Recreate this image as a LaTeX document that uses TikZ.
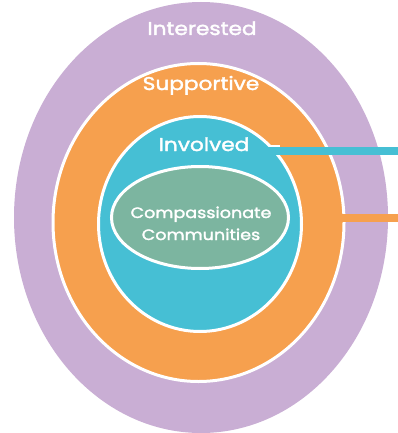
\documentclass[tikz,border=0pt]{standalone}
\usepackage{fontspec}
\setmainfont{Poppins}[FakeStretch=1.17,FakeBold=2]
\definecolor{lav}{RGB}{201,174,212}
\definecolor{org}{RGB}{246,160,78}
\definecolor{cya}{RGB}{70,191,212}
\definecolor{grn}{RGB}{124,181,160}
\tikzset{
  ring/.style={draw=white,line width=3pt},
  lbl/.style={text=white,anchor=base,inner sep=0pt,font=\fontsize{18.5}{20}\selectfont},
  clbl/.style={text=white,anchor=base,inner sep=0pt,font=\fontsize{15}{17}\selectfont},
  conn/.style={line width=8pt}
}
\begin{document}
\begin{tikzpicture}[x=1pt,y=-1pt]
\useasboundingbox (0,0) rectangle (398,433);
\fill[white] (0,0) rectangle (398,433);
% outer layer
\fill[lav] (201,217.5) ellipse [x radius=187, y radius=215.5];
% supportive layer
\filldraw[fill=org,ring] (198.5,222.5) ellipse [x radius=145.5, y radius=159];
\coordinate (oStart) at (335,218);
\coordinate (oEnd) at (398,218);
\draw[org,conn] (oStart) -- (oEnd);
% involved layer
\coordinate (wStart) at (262,150.5);
\coordinate (wEnd) at (280,150.5);
\draw[white,line width=11.5pt] (wStart) -- (wEnd);
\filldraw[fill=cya,ring] (200,224) ellipse [x radius=101.5, y radius=107.5];
\coordinate (cStart) at (262,150.5);
\coordinate (cEnd) at (398,150.5);
\draw[cya,conn] (cStart) -- (cEnd);
% core
\filldraw[fill=grn,ring] (200,217.5) ellipse [x radius=88.5, y radius=51];
% labels
\node[lbl] (interested) at (202,35) {Interested};
\node[lbl] (supportive) at (201,90) {Supportive};
\node[lbl] (involved) at (204,151) {Involved};
\node[clbl] (comp) at (201,218) {Compassionate};
\node[clbl] (comm) at (201,240) {Communities};
\end{tikzpicture}
\end{document}
